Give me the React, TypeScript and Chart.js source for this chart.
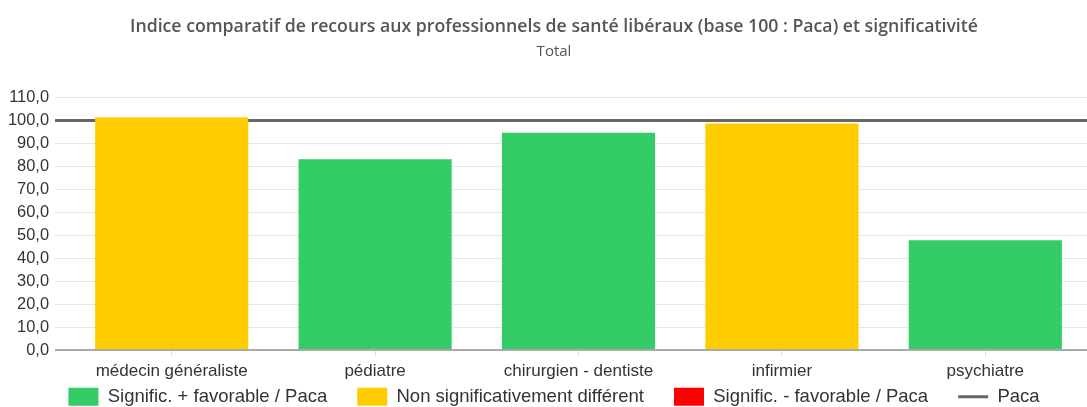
import React, { useEffect, useRef } from 'react';
import { Chart, registerables } from 'chart.js';

Chart.register(...registerables);

const categories = ['médecin généraliste', 'pédiatre', 'chirurgien - dentiste', 'infirmier', 'psychiatre'];
const values = [101.3, 83.0, 94.5, 98.6, 47.8];
// 0 = Signific. + favorable, 1 = Non significativement différent, 2 = Signific. - favorable
const significance = [1, 0, 0, 1, 0];
const PACA_REF = 100;
const legendTexts = ['Signific. + favorable / Paca', 'Non significativement différent', 'Signific. - favorable / Paca', 'Paca'];
const legendColors = ['#33CC66', '#FFCC00', '#FF0000', '#666666'];
const Y_MIN = 0;
const Y_MAX = 110;
const Y_STEP = 10;

const TITLE = 'Indice comparatif de recours aux professionnels de santé libéraux (base 100 : Paca) et significativité';
const SUBTITLE = 'Total';

const LEGEND_SHIFT = 29;

const layoutTweak = {
  id: 'layoutTweak',
  afterLayout(chart: any) {
    if (chart.scales && chart.scales.y) chart.scales.y.left = 0;
    if (chart.legend) {
      chart.legend.top -= LEGEND_SHIFT;
      chart.legend.bottom -= LEGEND_SHIFT;
    }
  },
};

export default function App() {
  const ref = useRef<HTMLCanvasElement | null>(null);

  useEffect(() => {
    const canvas = ref.current;
    if (!canvas) return;
    const chart = new Chart(canvas, {
      type: 'bar',
      data: {
        labels: categories,
        datasets: [
          {
            label: 'Indice',
            data: values,
            backgroundColor: significance.map((s) => legendColors[s]),
            borderWidth: 0,
            categoryPercentage: 1,
            barPercentage: 0.753,
          },
        ],
      },
      plugins: [layoutTweak],
      options: {
        animation: false,
        responsive: false,
        devicePixelRatio: 1,
        layout: { padding: { left: 21, right: 20, top: 0, bottom: 0 } },
        plugins: {
          tooltip: { enabled: false },
          title: {
            display: true,
            text: TITLE,
            color: '#555555',
            font: { family: 'Open Sans', size: 17.7, weight: '600' },
            padding: { top: 16, bottom: 5 },
          },
          subtitle: {
            display: true,
            text: SUBTITLE,
            color: '#555555',
            font: { family: 'Open Sans', size: 15, weight: 'normal' },
            padding: { top: 0, bottom: 37 },
          },
          legend: {
            position: 'bottom',
            labels: {
              usePointStyle: true,
              pointStyleWidth: 30,
              boxHeight: 18,
              padding: 30,
              color: '#333333',
              font: { family: 'Liberation Sans', size: 18.5 },
              generateLabels: () =>
                legendTexts.map((text, i) => ({
                  text,
                  fillStyle: legendColors[i],
                  strokeStyle: legendColors[i],
                  lineWidth: i === 3 ? 3 : 0,
                  pointStyle: i === 3 ? 'line' : 'rect',
                  hidden: false,
                  fontColor: '#333333',
                  datasetIndex: 0,
                })),
            },
          },
        },
        scales: {
          x: {
            grid: {
              display: true,
              offset: false,
              drawOnChartArea: false,
              drawTicks: true,
              tickLength: 6,
              color: '#dddddd',
            },
            border: { display: false },
            ticks: {
              color: '#333333',
              padding: 5,
              font: { family: 'Liberation Sans', size: 17 },
              maxRotation: 0,
              autoSkip: false,
            },
          },
          y: {
            min: Y_MIN,
            max: Y_MAX,
            afterFit: (scale: any) => {
              scale.width = 49;
            },
            grid: {
              drawTicks: true,
              tickLength: 15,
              color: (ctx: any) =>
                ctx.tick && ctx.tick.value === PACA_REF ? '#666666' : ctx.tick && ctx.tick.value === Y_MIN ? '#aaaaaa' : '#e6e6e6',
              lineWidth: (ctx: any) =>
                ctx.tick && ctx.tick.value === PACA_REF ? 3 : ctx.tick && ctx.tick.value === Y_MIN ? 2 : 1,
            },
            border: { display: false },
            ticks: {
              stepSize: Y_STEP,
              autoSkip: false,
              color: '#333333',
              padding: 6,
              font: { family: 'Liberation Sans', size: 16.4 },
              callback: (v: any) => Number(v).toFixed(1).replace('.', ','),
            },
          },
        },
      },
    });
    return () => chart.destroy();
  }, []);

  return (
    <div style={{ position: 'fixed', left: 0, top: 0, width: 1087, height: 407, overflow: 'hidden', background: '#fff' }}>
      <canvas ref={ref} width={1107} height={445} style={{ display: 'block', width: 1107, height: 445 }} />
    </div>
  );
}
